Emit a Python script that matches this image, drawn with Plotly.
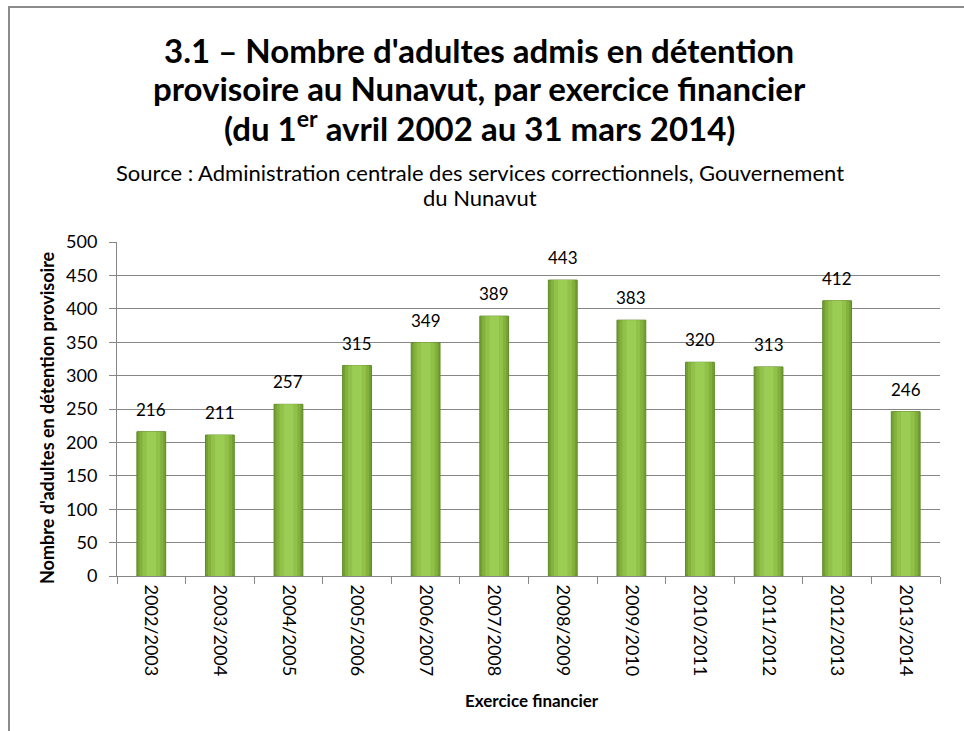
import plotly.graph_objects as go

categories = ["2002/2003", "2003/2004", "2004/2005", "2005/2006", "2006/2007", "2007/2008",
              "2008/2009", "2009/2010", "2010/2011", "2011/2012", "2012/2013", "2013/2014"]
values = [216, 211, 257, 315, 349, 389, 443, 383, 320, 313, 412, 246]
y_ticks = [0, 50, 100, 150, 200, 250, 300, 350, 400, 450, 500]

title_lines = ["<b>3.1 – Nombre d'adultes admis en détention</b>",
               "<b>provisoire au Nunavut, par exercice financier</b>",
               "<b>(du 1<sup>er</sup> avril 2002 au 31 mars 2014)</b>"]
subtitle_lines = ["Source : Administration centrale des services correctionnels, Gouvernement",
                  "du Nunavut"]
x_title = "<b>Exercice financier</b>"
y_title = "<b>Nombre d'adultes en détention provisoire</b>"

FONT = "Lato"
W, H = 964, 731
L, R, T, B = 117, 24, 242, 155
PW, PH = W - L - R, H - T - B


def px_x(x):
    return (x - L) / PW


def px_y(y):
    return (H - B - y) / PH


fig = go.Figure()
# layered bars to mimic the shaded (gradient) look
layers = [(0.42, "#73A031", "#5E8A26"), (0.35, "#84B13E", None), (0.26, "#91C149", None), (0.14, "#9BCC53", None)]
for w, c, lc in layers:
    fig.add_trace(go.Bar(
        x=categories, y=values, width=w,
        marker=dict(color=c, line=dict(color=lc if lc else c, width=1 if lc else 0)),
        hoverinfo="skip" if lc is None else None,
    ))

annotations = []
for cat, v in zip(categories, values):
    annotations.append(dict(x=cat, y=v, xref="x", yref="y", text=str(v), showarrow=False,
                            yanchor="bottom", yshift=10,
                            font=dict(family=FONT, size=17, color="#000000")))

title_y = [50, 88, 126]
for t, yy in zip(title_lines, title_y):
    annotations.append(dict(text=t, x=px_x(479), y=px_y(yy), xref="paper", yref="paper",
                            xanchor="center", yanchor="middle", showarrow=False,
                            font=dict(family=FONT, size=33, color="#000000")))
sub_y = [172, 197]
for t, yy in zip(subtitle_lines, sub_y):
    annotations.append(dict(text=t, x=px_x(480), y=px_y(yy), xref="paper", yref="paper",
                            xanchor="center", yanchor="middle", showarrow=False,
                            font=dict(family=FONT, size=22, color="#000000")))

annotations.append(dict(text=x_title, x=px_x(532), y=px_y(700), xref="paper", yref="paper",
                        xanchor="center", yanchor="middle", showarrow=False,
                        font=dict(family=FONT, size=17, color="#000000")))
annotations.append(dict(text=y_title, x=px_x(47), y=px_y(418), xref="paper", yref="paper",
                        xanchor="center", yanchor="middle", showarrow=False, textangle=-90,
                        font=dict(family=FONT, size=18, color="#000000")))

fig.update_layout(
    width=W, height=H,
    margin=dict(l=L, r=R, t=T, b=B),
    paper_bgcolor="white", plot_bgcolor="white",
    showlegend=False, barmode="overlay",
    font=dict(family=FONT, color="#000000"),
    xaxis=dict(
        type="category", tickangle=90, tickfont=dict(size=18, family=FONT),
        ticks="outside", tickson="boundaries", ticklen=7, tickcolor="#868686",
        ticklabelstandoff=4,
        showline=True, linecolor="#868686", linewidth=1,
    ),
    yaxis=dict(
        range=[0, 500], tickvals=y_ticks, tickfont=dict(size=18, family=FONT),
        ticks="outside", ticklen=7, tickcolor="#868686", ticklabelstandoff=8,
        showline=True, linecolor="#868686", linewidth=1,
        showgrid=True, gridcolor="#868686", gridwidth=1,
        zeroline=False,
    ),
    annotations=annotations,
)

# outer chart border
fig.add_shape(type="rect", xref="paper", yref="paper",
              x0=px_x(9), x1=px_x(990), y0=px_y(760), y1=px_y(7),
              line=dict(color="#8c8c8c", width=2), layer="below")

fig.write_html("out.html", config={"displayModeBar": False},
               post_script="document.body.style.margin='0';")
